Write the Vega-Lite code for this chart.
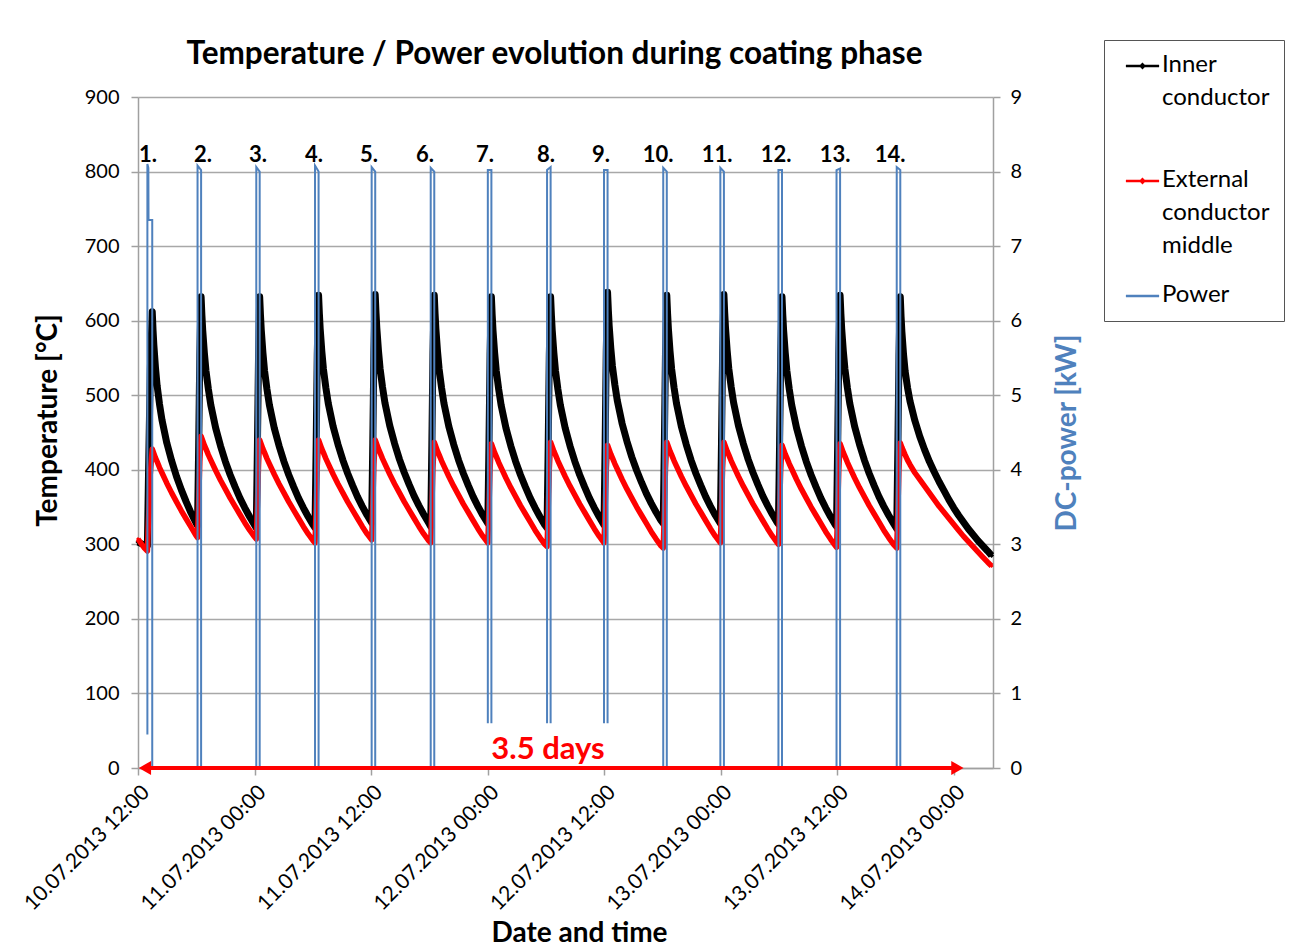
{
"$schema": "https://vega.github.io/schema/vega-lite/v6.json",
"autosize": {"type": "none"},
"width": 855,
"height": 671,
"padding": {"left": 138, "top": 97, "right": 304, "bottom": 183},
"background": "white",
"title": {"text": "Temperature / Power evolution during coating phase", "font": "Lato", "fontSize": 31.5, "fontWeight": "bold", "color": "#000", "anchor": "middle", "offset": -31, "dx": -11},
"datasets": {
"temp": [
{"t":"2013-07-10 12:00","i":303,"e":307},{"t":"2013-07-10 12:20","i":301,"e":301},{"t":"2013-07-10 12:40","i":299,"e":295},{"t":"2013-07-10 12:58","i":298,"e":291},
{"t":"2013-07-10 13:06","i":408,"e":339},{"t":"2013-07-10 13:16","i":534,"e":394},{"t":"2013-07-10 13:28","i":612,"e":428},{"t":"2013-07-10 13:33","i":587,"e":425},{"t":"2013-07-10 13:38","i":567,"e":422},{"t":"2013-07-10 13:48","i":537,"e":416},{"t":"2013-07-10 13:58","i":513,"e":411},{"t":"2013-07-10 14:13","i":488,"e":403},{"t":"2013-07-10 14:28","i":467,"e":396},{"t":"2013-07-10 14:58","i":436,"e":382},{"t":"2013-07-10 15:28","i":412,"e":369},{"t":"2013-07-10 15:58","i":391,"e":357},{"t":"2013-07-10 16:28","i":373,"e":345},{"t":"2013-07-10 16:58","i":357,"e":334},{"t":"2013-07-10 17:28","i":342,"e":323},{"t":"2013-07-10 17:58","i":329,"e":312},{"t":"2013-07-10 18:08","i":325,"e":309},
{"t":"2013-07-10 18:15","i":432,"e":357},{"t":"2013-07-10 18:22","i":555,"e":411},{"t":"2013-07-10 18:30","i":632,"e":445},{"t":"2013-07-10 18:35","i":607,"e":442},{"t":"2013-07-10 18:40","i":587,"e":439},{"t":"2013-07-10 18:50","i":557,"e":433},{"t":"2013-07-10 19:00","i":533,"e":428},{"t":"2013-07-10 19:15","i":508,"e":420},{"t":"2013-07-10 19:30","i":487,"e":413},{"t":"2013-07-10 20:00","i":456,"e":399},{"t":"2013-07-10 20:30","i":432,"e":386},{"t":"2013-07-10 21:00","i":411,"e":374},{"t":"2013-07-10 21:30","i":393,"e":362},{"t":"2013-07-10 22:00","i":377,"e":351},{"t":"2013-07-10 22:30","i":362,"e":340},{"t":"2013-07-10 23:00","i":349,"e":329},{"t":"2013-07-10 23:30","i":337,"e":319},{"t":"2013-07-11 00:00","i":326,"e":310},{"t":"2013-07-11 00:11","i":322,"e":307},
{"t":"2013-07-11 00:18","i":431,"e":354},{"t":"2013-07-11 00:25","i":554,"e":407},{"t":"2013-07-11 00:32","i":632,"e":440},{"t":"2013-07-11 00:37","i":607,"e":437},{"t":"2013-07-11 00:42","i":587,"e":434},{"t":"2013-07-11 00:52","i":557,"e":428},{"t":"2013-07-11 01:02","i":533,"e":423},{"t":"2013-07-11 01:17","i":508,"e":415},{"t":"2013-07-11 01:32","i":487,"e":408},{"t":"2013-07-11 02:02","i":456,"e":394},{"t":"2013-07-11 02:32","i":432,"e":381},{"t":"2013-07-11 03:02","i":411,"e":369},{"t":"2013-07-11 03:32","i":393,"e":357},{"t":"2013-07-11 04:02","i":377,"e":346},{"t":"2013-07-11 04:32","i":362,"e":335},{"t":"2013-07-11 05:02","i":349,"e":324},{"t":"2013-07-11 05:32","i":337,"e":314},{"t":"2013-07-11 06:02","i":326,"e":305},{"t":"2013-07-11 06:14","i":322,"e":302},
{"t":"2013-07-11 06:21","i":431,"e":350},{"t":"2013-07-11 06:28","i":556,"e":406},{"t":"2013-07-11 06:36","i":634,"e":440},{"t":"2013-07-11 06:41","i":609,"e":437},{"t":"2013-07-11 06:46","i":589,"e":434},{"t":"2013-07-11 06:56","i":559,"e":428},{"t":"2013-07-11 07:06","i":535,"e":423},{"t":"2013-07-11 07:21","i":510,"e":415},{"t":"2013-07-11 07:36","i":489,"e":408},{"t":"2013-07-11 08:06","i":458,"e":394},{"t":"2013-07-11 08:36","i":434,"e":381},{"t":"2013-07-11 09:06","i":413,"e":369},{"t":"2013-07-11 09:36","i":395,"e":357},{"t":"2013-07-11 10:06","i":379,"e":346},{"t":"2013-07-11 10:36","i":364,"e":335},{"t":"2013-07-11 11:06","i":351,"e":324},{"t":"2013-07-11 11:36","i":339,"e":314},{"t":"2013-07-11 12:04","i":329,"e":306},
{"t":"2013-07-11 12:11","i":436,"e":353},{"t":"2013-07-11 12:18","i":559,"e":407},{"t":"2013-07-11 12:26","i":635,"e":440},{"t":"2013-07-11 12:31","i":610,"e":437},{"t":"2013-07-11 12:36","i":590,"e":434},{"t":"2013-07-11 12:46","i":560,"e":428},{"t":"2013-07-11 12:56","i":536,"e":423},{"t":"2013-07-11 13:11","i":511,"e":415},{"t":"2013-07-11 13:26","i":490,"e":408},{"t":"2013-07-11 13:56","i":459,"e":394},{"t":"2013-07-11 14:26","i":435,"e":381},{"t":"2013-07-11 14:56","i":414,"e":369},{"t":"2013-07-11 15:26","i":396,"e":357},{"t":"2013-07-11 15:56","i":380,"e":346},{"t":"2013-07-11 16:26","i":365,"e":335},{"t":"2013-07-11 16:56","i":352,"e":324},{"t":"2013-07-11 17:26","i":340,"e":314},{"t":"2013-07-11 17:56","i":329,"e":305},{"t":"2013-07-11 18:09","i":324,"e":302},
{"t":"2013-07-11 18:16","i":433,"e":349},{"t":"2013-07-11 18:23","i":557,"e":403},{"t":"2013-07-11 18:31","i":634,"e":437},{"t":"2013-07-11 18:36","i":609,"e":434},{"t":"2013-07-11 18:41","i":589,"e":431},{"t":"2013-07-11 18:51","i":559,"e":425},{"t":"2013-07-11 19:01","i":535,"e":420},{"t":"2013-07-11 19:16","i":510,"e":412},{"t":"2013-07-11 19:31","i":489,"e":405},{"t":"2013-07-11 20:01","i":458,"e":391},{"t":"2013-07-11 20:31","i":434,"e":378},{"t":"2013-07-11 21:01","i":413,"e":366},{"t":"2013-07-11 21:31","i":395,"e":354},{"t":"2013-07-11 22:01","i":379,"e":343},{"t":"2013-07-11 22:31","i":364,"e":332},{"t":"2013-07-11 23:01","i":351,"e":321},{"t":"2013-07-11 23:31","i":339,"e":311},{"t":"2013-07-12 00:02","i":328,"e":302},
{"t":"2013-07-12 00:09","i":434,"e":349},{"t":"2013-07-12 00:16","i":556,"e":402},{"t":"2013-07-12 00:24","i":632,"e":435},{"t":"2013-07-12 00:29","i":607,"e":432},{"t":"2013-07-12 00:34","i":587,"e":429},{"t":"2013-07-12 00:44","i":557,"e":423},{"t":"2013-07-12 00:54","i":533,"e":418},{"t":"2013-07-12 01:09","i":508,"e":410},{"t":"2013-07-12 01:24","i":487,"e":403},{"t":"2013-07-12 01:54","i":456,"e":389},{"t":"2013-07-12 02:24","i":432,"e":376},{"t":"2013-07-12 02:54","i":411,"e":364},{"t":"2013-07-12 03:24","i":393,"e":352},{"t":"2013-07-12 03:54","i":377,"e":341},{"t":"2013-07-12 04:24","i":362,"e":330},{"t":"2013-07-12 04:54","i":349,"e":319},{"t":"2013-07-12 05:24","i":337,"e":309},{"t":"2013-07-12 05:54","i":326,"e":300},{"t":"2013-07-12 06:08","i":322,"e":297},
{"t":"2013-07-12 06:15","i":431,"e":346},{"t":"2013-07-12 06:22","i":555,"e":402},{"t":"2013-07-12 06:30","i":632,"e":437},{"t":"2013-07-12 06:35","i":607,"e":434},{"t":"2013-07-12 06:40","i":587,"e":431},{"t":"2013-07-12 06:50","i":557,"e":425},{"t":"2013-07-12 07:00","i":533,"e":420},{"t":"2013-07-12 07:15","i":508,"e":412},{"t":"2013-07-12 07:30","i":487,"e":405},{"t":"2013-07-12 08:00","i":456,"e":391},{"t":"2013-07-12 08:30","i":432,"e":378},{"t":"2013-07-12 09:00","i":411,"e":366},{"t":"2013-07-12 09:30","i":393,"e":354},{"t":"2013-07-12 10:00","i":377,"e":343},{"t":"2013-07-12 10:30","i":362,"e":332},{"t":"2013-07-12 11:00","i":349,"e":321},{"t":"2013-07-12 11:30","i":337,"e":311},{"t":"2013-07-12 12:00","i":326,"e":302},
{"t":"2013-07-12 12:07","i":435,"e":348},{"t":"2013-07-12 12:14","i":560,"e":400},{"t":"2013-07-12 12:22","i":638,"e":433},{"t":"2013-07-12 12:27","i":613,"e":430},{"t":"2013-07-12 12:32","i":593,"e":427},{"t":"2013-07-12 12:42","i":563,"e":421},{"t":"2013-07-12 12:52","i":539,"e":416},{"t":"2013-07-12 13:07","i":514,"e":408},{"t":"2013-07-12 13:22","i":493,"e":401},{"t":"2013-07-12 13:52","i":462,"e":387},{"t":"2013-07-12 14:22","i":438,"e":374},{"t":"2013-07-12 14:52","i":417,"e":362},{"t":"2013-07-12 15:22","i":399,"e":350},{"t":"2013-07-12 15:52","i":383,"e":339},{"t":"2013-07-12 16:22","i":368,"e":328},{"t":"2013-07-12 16:52","i":355,"e":317},{"t":"2013-07-12 17:22","i":343,"e":307},{"t":"2013-07-12 17:52","i":332,"e":298},{"t":"2013-07-12 18:06","i":328,"e":295},
{"t":"2013-07-12 18:13","i":435,"e":345},{"t":"2013-07-12 18:20","i":558,"e":402},{"t":"2013-07-12 18:28","i":634,"e":437},{"t":"2013-07-12 18:33","i":609,"e":434},{"t":"2013-07-12 18:38","i":589,"e":431},{"t":"2013-07-12 18:48","i":559,"e":425},{"t":"2013-07-12 18:58","i":535,"e":420},{"t":"2013-07-12 19:13","i":510,"e":412},{"t":"2013-07-12 19:28","i":489,"e":405},{"t":"2013-07-12 19:58","i":458,"e":391},{"t":"2013-07-12 20:28","i":434,"e":378},{"t":"2013-07-12 20:58","i":413,"e":366},{"t":"2013-07-12 21:28","i":395,"e":354},{"t":"2013-07-12 21:58","i":379,"e":343},{"t":"2013-07-12 22:28","i":364,"e":332},{"t":"2013-07-12 22:58","i":351,"e":321},{"t":"2013-07-12 23:28","i":339,"e":311},{"t":"2013-07-12 23:59","i":328,"e":302},
{"t":"2013-07-13 00:06","i":435,"e":349},{"t":"2013-07-13 00:13","i":558,"e":403},{"t":"2013-07-13 00:21","i":635,"e":437},{"t":"2013-07-13 00:26","i":610,"e":434},{"t":"2013-07-13 00:31","i":590,"e":431},{"t":"2013-07-13 00:41","i":560,"e":425},{"t":"2013-07-13 00:51","i":536,"e":420},{"t":"2013-07-13 01:06","i":511,"e":412},{"t":"2013-07-13 01:21","i":490,"e":405},{"t":"2013-07-13 01:51","i":459,"e":391},{"t":"2013-07-13 02:21","i":435,"e":378},{"t":"2013-07-13 02:51","i":414,"e":366},{"t":"2013-07-13 03:21","i":396,"e":354},{"t":"2013-07-13 03:51","i":380,"e":343},{"t":"2013-07-13 04:21","i":365,"e":332},{"t":"2013-07-13 04:51","i":352,"e":321},{"t":"2013-07-13 05:21","i":340,"e":311},{"t":"2013-07-13 05:51","i":329,"e":302},{"t":"2013-07-13 05:58","i":327,"e":300},
{"t":"2013-07-13 06:05","i":434,"e":347},{"t":"2013-07-13 06:12","i":556,"e":400},{"t":"2013-07-13 06:20","i":632,"e":433},{"t":"2013-07-13 06:25","i":607,"e":430},{"t":"2013-07-13 06:30","i":587,"e":427},{"t":"2013-07-13 06:40","i":557,"e":421},{"t":"2013-07-13 06:50","i":533,"e":416},{"t":"2013-07-13 07:05","i":508,"e":408},{"t":"2013-07-13 07:20","i":487,"e":401},{"t":"2013-07-13 07:50","i":456,"e":387},{"t":"2013-07-13 08:20","i":432,"e":374},{"t":"2013-07-13 08:50","i":411,"e":362},{"t":"2013-07-13 09:20","i":393,"e":350},{"t":"2013-07-13 09:50","i":377,"e":339},{"t":"2013-07-13 10:20","i":362,"e":328},{"t":"2013-07-13 10:50","i":349,"e":317},{"t":"2013-07-13 11:20","i":337,"e":307},{"t":"2013-07-13 11:50","i":326,"e":298},{"t":"2013-07-13 11:57","i":324,"e":296},
{"t":"2013-07-13 12:04","i":433,"e":345},{"t":"2013-07-13 12:11","i":557,"e":400},{"t":"2013-07-13 12:19","i":634,"e":435},{"t":"2013-07-13 12:24","i":609,"e":432},{"t":"2013-07-13 12:29","i":589,"e":429},{"t":"2013-07-13 12:39","i":559,"e":423},{"t":"2013-07-13 12:49","i":535,"e":418},{"t":"2013-07-13 13:04","i":510,"e":410},{"t":"2013-07-13 13:19","i":489,"e":403},{"t":"2013-07-13 13:49","i":458,"e":389},{"t":"2013-07-13 14:19","i":434,"e":376},{"t":"2013-07-13 14:49","i":413,"e":364},{"t":"2013-07-13 15:19","i":395,"e":352},{"t":"2013-07-13 15:49","i":379,"e":341},{"t":"2013-07-13 16:19","i":364,"e":330},{"t":"2013-07-13 16:49","i":351,"e":319},{"t":"2013-07-13 17:19","i":339,"e":309},{"t":"2013-07-13 17:49","i":328,"e":300},{"t":"2013-07-13 18:09","i":321,"e":295},
{"t":"2013-07-13 18:16","i":430,"e":344},{"t":"2013-07-13 18:23","i":554,"e":401},{"t":"2013-07-13 18:31","i":632,"e":436},{"t":"2013-07-13 18:36","i":605,"e":433},{"t":"2013-07-13 18:41","i":585,"e":430},{"t":"2013-07-13 18:51","i":555,"e":425},{"t":"2013-07-13 19:01","i":532,"e":420},{"t":"2013-07-13 19:16","i":510,"e":413},{"t":"2013-07-13 19:31","i":492,"e":407},{"t":"2013-07-13 20:01","i":466,"e":396},{"t":"2013-07-13 20:31","i":445,"e":387},{"t":"2013-07-13 21:01","i":427,"e":378},{"t":"2013-07-13 21:31","i":411,"e":369},{"t":"2013-07-13 22:01","i":397,"e":360},{"t":"2013-07-13 22:31","i":384,"e":351},{"t":"2013-07-13 23:01","i":372,"e":343},{"t":"2013-07-13 23:31","i":360,"e":335},{"t":"2013-07-14 00:01","i":349,"e":327},{"t":"2013-07-14 00:31","i":339,"e":319},{"t":"2013-07-14 01:01","i":330,"e":311},{"t":"2013-07-14 01:31","i":321,"e":304},{"t":"2013-07-14 02:01","i":313,"e":297},{"t":"2013-07-14 02:31","i":305,"e":290},{"t":"2013-07-14 03:01","i":298,"e":283},{"t":"2013-07-14 03:31","i":291,"e":276},{"t":"2013-07-14 03:55","i":285,"e":271}
],
"pw": [
{"t":"2013-07-10 12:58","p":0.45,"g":1},{"t":"2013-07-10 12:58","p":8.1,"g":1},{"t":"2013-07-10 13:04","p":8.05,"g":1},{"t":"2013-07-10 13:05","p":7.35,"g":1},{"t":"2013-07-10 13:28","p":7.35,"g":1},{"t":"2013-07-10 13:28","p":0,"g":1},
{"t":"2013-07-10 18:08","p":0,"g":2},{"t":"2013-07-10 18:08","p":8.08,"g":2},{"t":"2013-07-10 18:30","p":8.02,"g":2},{"t":"2013-07-10 18:30","p":0,"g":2},
{"t":"2013-07-11 00:11","p":0,"g":3},{"t":"2013-07-11 00:11","p":8.06,"g":3},{"t":"2013-07-11 00:32","p":8.0,"g":3},{"t":"2013-07-11 00:32","p":0,"g":3},
{"t":"2013-07-11 06:14","p":0,"g":4},{"t":"2013-07-11 06:14","p":8.08,"g":4},{"t":"2013-07-11 06:36","p":8.0,"g":4},{"t":"2013-07-11 06:36","p":0,"g":4},
{"t":"2013-07-11 12:04","p":0,"g":5},{"t":"2013-07-11 12:04","p":8.06,"g":5},{"t":"2013-07-11 12:26","p":8.0,"g":5},{"t":"2013-07-11 12:26","p":0,"g":5},
{"t":"2013-07-11 18:09","p":0,"g":6},{"t":"2013-07-11 18:09","p":8.05,"g":6},{"t":"2013-07-11 18:31","p":8.0,"g":6},{"t":"2013-07-11 18:31","p":0,"g":6},
{"t":"2013-07-12 00:02","p":0.6,"g":7},{"t":"2013-07-12 00:02","p":8.02,"g":7},{"t":"2013-07-12 00:24","p":8.02,"g":7},{"t":"2013-07-12 00:24","p":0.6,"g":7},
{"t":"2013-07-12 06:08","p":0.6,"g":8},{"t":"2013-07-12 06:08","p":8.02,"g":8},{"t":"2013-07-12 06:30","p":8.06,"g":8},{"t":"2013-07-12 06:30","p":0.6,"g":8},
{"t":"2013-07-12 12:00","p":0.6,"g":9},{"t":"2013-07-12 12:00","p":8.02,"g":9},{"t":"2013-07-12 12:22","p":8.02,"g":9},{"t":"2013-07-12 12:22","p":0.6,"g":9},
{"t":"2013-07-12 18:06","p":0,"g":10},{"t":"2013-07-12 18:06","p":8.05,"g":10},{"t":"2013-07-12 18:28","p":8.0,"g":10},{"t":"2013-07-12 18:28","p":0,"g":10},
{"t":"2013-07-12 23:59","p":0,"g":11},{"t":"2013-07-12 23:59","p":8.05,"g":11},{"t":"2013-07-13 00:21","p":8.0,"g":11},{"t":"2013-07-13 00:21","p":0,"g":11},
{"t":"2013-07-13 05:58","p":0,"g":12},{"t":"2013-07-13 05:58","p":8.02,"g":12},{"t":"2013-07-13 06:20","p":8.02,"g":12},{"t":"2013-07-13 06:20","p":0,"g":12},
{"t":"2013-07-13 11:57","p":0,"g":13},{"t":"2013-07-13 11:57","p":8.02,"g":13},{"t":"2013-07-13 12:19","p":8.04,"g":13},{"t":"2013-07-13 12:19","p":0,"g":13},
{"t":"2013-07-13 18:09","p":0,"g":14},{"t":"2013-07-13 18:09","p":8.06,"g":14},{"t":"2013-07-13 18:31","p":8.02,"g":14},{"t":"2013-07-13 18:31","p":0,"g":14}
],
"lab": [
{"n":"1.","t":"2013-07-10 13:02"},{"n":"2.","t":"2013-07-10 18:42"},{"n":"3.","t":"2013-07-11 00:22"},{"n":"4.","t":"2013-07-11 06:08"},{"n":"5.","t":"2013-07-11 11:48"},{"n":"6.","t":"2013-07-11 17:34"},{"n":"7.","t":"2013-07-11 23:45"},{"n":"8.","t":"2013-07-12 06:02"},{"n":"9.","t":"2013-07-12 11:42"},{"n":"10.","t":"2013-07-12 17:34"},{"n":"11.","t":"2013-07-12 23:39"},{"n":"12.","t":"2013-07-13 05:43"},{"n":"13.","t":"2013-07-13 11:48"},{"n":"14.","t":"2013-07-13 17:28"}
]
},
"layer": [
{
"layer": [
{"data": {"name": "temp"},
 "mark": {"type": "line", "color": "#000", "strokeWidth": 7, "strokeJoin": "round"},
 "encoding": {
  "x": {"field": "t", "type": "temporal", "title": "Date and time",
        "scale": {"domain": [{"year":2013,"month":7,"date":10,"hours":12},{"year":2013,"month":7,"date":14,"hours":4,"minutes":4}]},
        "axis": {"values": [{"year":2013,"month":7,"date":10,"hours":12},{"year":2013,"month":7,"date":11,"hours":0},{"year":2013,"month":7,"date":11,"hours":12},{"year":2013,"month":7,"date":12,"hours":0},{"year":2013,"month":7,"date":12,"hours":12},{"year":2013,"month":7,"date":13,"hours":0},{"year":2013,"month":7,"date":13,"hours":12},{"year":2013,"month":7,"date":14,"hours":0}],
                 "format": "%d.%m.%Y %H:%M", "labelAngle": -45, "labelOverlap": false, "labelFontSize": 21, "grid": false, "labelPadding": 6, "titlePadding": 6, "titleX": 441}},
  "y": {"field": "i", "type": "quantitative", "title": "Temperature [°C]",
        "scale": {"domain": [0, 900], "nice": false},
        "axis": {"values": [0,100,200,300,400,500,600,700,800,900], "grid": true, "labelPadding": 12, "titlePadding": 22, "titleY": 323}},
  "color": {"datum": "Inner conductor", "type": "nominal",
            "scale": {"domain": ["Inner conductor", "External conductor middle", "Power"], "range": ["#000000", "#FF0000", "#4F81BD"]},
            "legend": {"orient": "none", "legendX": 966, "legendY": -57, "title": null, "strokeColor": "#555", "fillColor": "#fff", "padding": 14, "symbolOffset": 12.5,
                       "symbolType": "M-2,0H2", "symbolSize": 276, "symbolStrokeWidth": 2.5, "labelFont": "Lato", "labelFontSize": 24,
                       "labelBaseline": "top", "labelOffset": 7.5, "rowPadding": 25, "labelLimit": 300, "labelColor": "#000",
                       "labelExpr": "datum.label == 'Inner conductor' ? ['Inner','conductor',''] : datum.label == 'Power' ? ['Power'] : ['External','conductor    ','middle']",
                       "encode": {"labels": {"update": {"lineHeight": {"value": 33}, "dy": {"value": -13}}},
                                  "symbols": {"update": {"shape": {"signal": "datum.value == 'Power' ? 'M-2,0H2' : 'M-2,0H2M-0.2,0L0,-0.2L0.2,0L0,0.2Z'"}}}}}}
 }},
{"data": {"name": "temp"},
 "mark": {"type": "point", "shape": "diamond", "filled": true, "size": 26, "color": "#000", "opacity": 1},
 "encoding": {"x": {"field": "t", "type": "temporal", "title": "Date and time"}, "y": {"field": "i", "type": "quantitative", "title": "Temperature [°C]"}}},
{"data": {"name": "temp"},
 "mark": {"type": "line", "strokeWidth": 5.5, "strokeJoin": "round"},
 "encoding": {"x": {"field": "t", "type": "temporal", "title": "Date and time"}, "y": {"field": "e", "type": "quantitative", "title": "Temperature [°C]"},
  "color": {"datum": "External conductor middle", "type": "nominal"}}},
{"data": {"name": "temp"},
 "mark": {"type": "point", "shape": "diamond", "filled": true, "size": 16, "color": "#FF0000", "opacity": 1},
 "encoding": {"x": {"field": "t", "type": "temporal", "title": "Date and time"}, "y": {"field": "e", "type": "quantitative", "title": "Temperature [°C]"}}},
{"data": {"name": "lab"},
 "mark": {"type": "text", "font": "Lato", "fontSize": 22, "fontWeight": "bold", "color": "#000", "align": "center", "baseline": "middle"},
 "encoding": {"x": {"field": "t", "type": "temporal", "title": "Date and time"}, "y": {"datum": 822}, "text": {"field": "n"}}}
]
},
{"data": {"name": "pw"},
 "mark": {"type": "line", "strokeWidth": 2},
 "encoding": {
  "x": {"field": "t", "type": "temporal", "title": "Date and time"},
  "y": {"field": "p", "type": "quantitative", "title": "DC-power [kW]", "scale": {"domain": [0, 9], "nice": false},
        "axis": {"orient": "right", "values": [0,1,2,3,4,5,6,7,8,9], "grid": false, "labelPadding": 10, "titlePadding": 60, "titleAngle": 270, "titleColor": "#4F81BD"}},
  "color": {"datum": "Power", "type": "nominal"},
  "detail": {"field": "g", "type": "nominal"}
 }},
{
"layer": [
{"data": {"values": [{"a": "2013-07-10 12:50", "b": "2013-07-14 00:15"}]},
 "mark": {"type": "rule", "color": "#FF0000", "strokeWidth": 4},
 "encoding": {"x": {"field": "a", "type": "temporal", "title": "Date and time"}, "x2": {"field": "b"},
  "y": {"datum": 0, "type": "quantitative", "scale": {"domain": [0, 900], "nice": false}, "axis": null}}},
{"data": {"values": [{"t": "2013-07-10 12:43", "s": "triangle-left"}, {"t": "2013-07-14 00:24", "s": "triangle-right"}]},
 "mark": {"type": "point", "filled": true, "size": 200, "color": "#FF0000", "opacity": 1},
 "encoding": {"x": {"field": "t", "type": "temporal", "title": "Date and time"}, "y": {"datum": 0, "type": "quantitative"}, "shape": {"field": "s", "type": "nominal", "scale": null}}},
{"data": {"values": [{"t": "2013-07-12 06:14", "s": "3.5 days"}]},
 "mark": {"type": "text", "font": "Lato", "fontSize": 31, "fontWeight": "bold", "color": "#FF0000", "align": "center", "baseline": "middle", "dy": -18},
 "encoding": {"x": {"field": "t", "type": "temporal", "title": "Date and time"}, "y": {"datum": 0, "type": "quantitative"}, "text": {"field": "s"}}}
]
}
],
"resolve": {"scale": {"y": "independent"}},
"config": {
 "font": "Lato",
 "view": {"stroke": null},
 "axis": {"labelFont": "Lato", "labelFontSize": 20, "labelColor": "#000", "titleFont": "Lato", "titleFontSize": 28, "titleFontWeight": "bold", "titleColor": "#000",
          "domainColor": "#A0A0A0", "domainWidth": 1.5, "tickColor": "#A0A0A0", "tickWidth": 1.5, "tickSize": 7, "gridColor": "#A8A8A8", "gridWidth": 1.5}
}
}
